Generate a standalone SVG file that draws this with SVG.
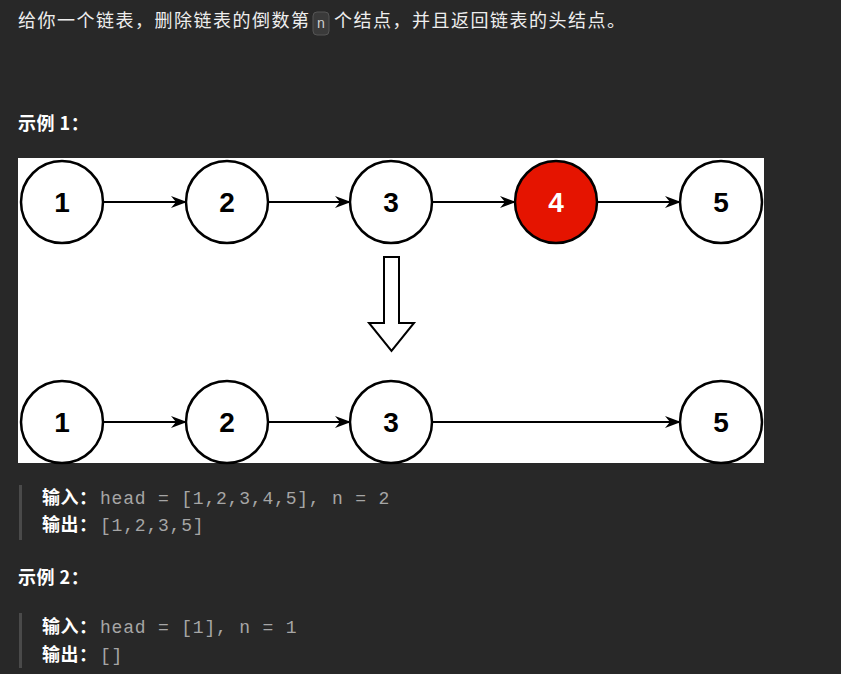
<svg xmlns="http://www.w3.org/2000/svg" width="841" height="674" viewBox="0 0 841 674">
<style>
.t{font-family:"Noto Sans CJK SC","Liberation Sans",sans-serif;fill:#eeeeee;font-size:18px;letter-spacing:1.5px}
.b{font-weight:bold;fill:#ffffff;letter-spacing:0.5px}
.code{font-family:"Liberation Mono","DejaVu Sans Mono",monospace;font-size:18px;fill:#a6a6a6;letter-spacing:0.8px}
.node circle{fill:#ffffff;stroke:#000000;stroke-width:2.5}
.node text{font-family:"Liberation Sans",Arial,sans-serif;font-weight:bold;font-size:28px;text-anchor:middle;fill:#000}
.edge{stroke:#000;stroke-width:2;fill:none;marker-end:url(#ah)}
</style>
<defs>
<marker id="ah" viewBox="0 0 16 12" refX="15" refY="6" markerWidth="16" markerHeight="12" markerUnits="userSpaceOnUse" orient="auto">
<path d="M0,0 L16,6 L0,12 L5,6 Z" fill="#000"/>
</marker>
</defs>
<rect width="841" height="674" fill="#282828"/>
<text class="t" x="18" y="27">给你一个链表，删除链表的倒数第</text>
<rect x="313" y="12" width="16" height="23" rx="4" fill="#3a3a3a" stroke="#555" stroke-width="1"/>
<text x="321" y="28" font-family="Liberation Mono,monospace" font-size="14" fill="#cfcfcf" text-anchor="middle">n</text>
<text class="t" x="334" y="27">个结点，并且返回链表的头结点。</text>
<text class="t b" x="18" y="130">示例 1：</text>
<rect x="18" y="158" width="746" height="305" fill="#ffffff"/>
<g id="connectors">
<line class="edge" x1="103" y1="202" x2="186" y2="202"/>
<line class="edge" x1="268" y1="202" x2="350" y2="202"/>
<line class="edge" x1="432" y1="202" x2="515" y2="202"/>
<line class="edge" x1="597" y1="202" x2="680" y2="202"/>
<line class="edge" x1="103" y1="422" x2="186" y2="422"/>
<line class="edge" x1="268" y1="422" x2="350" y2="422"/>
<line class="edge" x1="432" y1="422" x2="680" y2="422"/>
</g>
<g id="n1a" class="node"><circle cx="62" cy="202" r="41"/><text x="62" y="212">1</text></g>
<g id="n2a" class="node"><circle cx="227" cy="202" r="41"/><text x="227" y="212">2</text></g>
<g id="n3a" class="node"><circle cx="391" cy="202" r="41"/><text x="391" y="212">3</text></g>
<g id="n4a" class="node"><circle cx="556" cy="202" r="41" style="fill:#e51400"/><text x="556" y="212" style="fill:#fff">4</text></g>
<g id="n5a" class="node"><circle cx="721" cy="202" r="41"/><text x="721" y="212">5</text></g>
<g id="down">
<path d="M384,257 L399,257 L399,323 L414,323 L391.5,351 L369,323 L384,323 Z" fill="#fff" stroke="#000" stroke-width="2" stroke-linejoin="miter"/>
</g>
<g id="n1b" class="node"><circle cx="62" cy="422" r="41"/><text x="62" y="432">1</text></g>
<g id="n2b" class="node"><circle cx="227" cy="422" r="41"/><text x="227" y="432">2</text></g>
<g id="n3b" class="node"><circle cx="391" cy="422" r="41"/><text x="391" y="432">3</text></g>
<g id="n5b" class="node"><circle cx="721" cy="422" r="41"/><text x="721" y="432">5</text></g>
<rect x="19" y="485" width="3" height="55" fill="#4a4a4a"/>
<text class="t b" x="42" y="504">输入：</text>
<text class="code" x="100" y="504">head = [1,2,3,4,5], n = 2</text>
<text class="t b" x="42" y="531">输出：</text>
<text class="code" x="100" y="531">[1,2,3,5]</text>
<text class="t b" x="18" y="584">示例 2：</text>
<rect x="19" y="613" width="3" height="55" fill="#4a4a4a"/>
<text class="t b" x="42" y="633">输入：</text>
<text class="code" x="100" y="633">head = [1], n = 1</text>
<text class="t b" x="42" y="661">输出：</text>
<text class="code" x="100" y="661">[]</text>
</svg>
